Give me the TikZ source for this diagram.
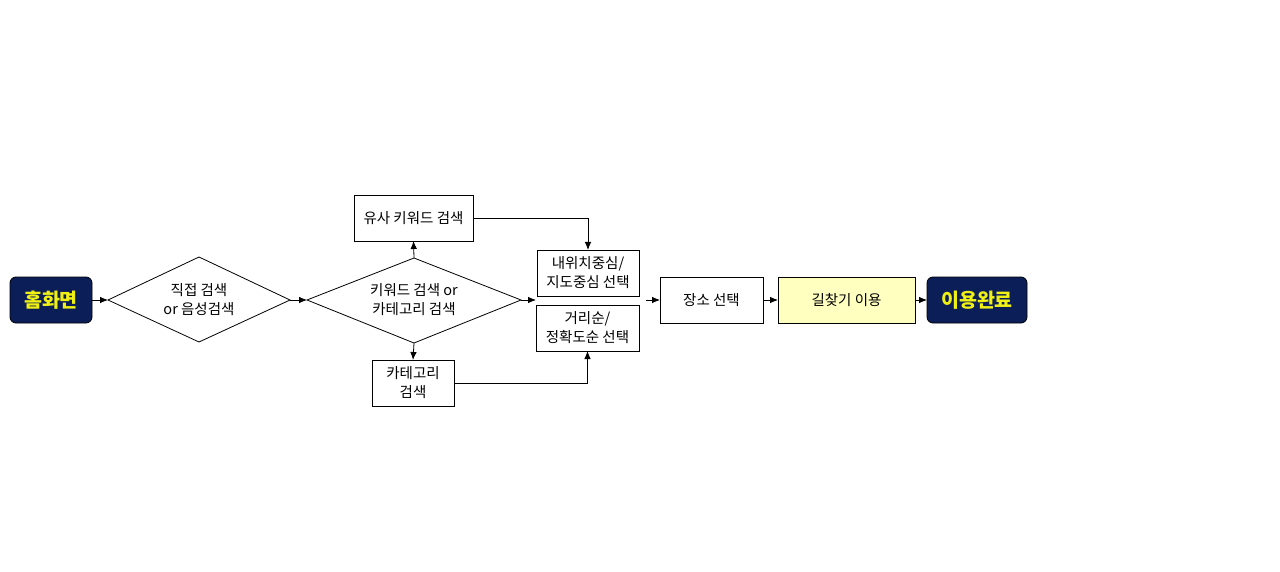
\documentclass[tikz,border=0pt]{standalone}
\usepackage{fontspec}
\setmainfont{Noto Sans CJK KR}
\usetikzlibrary{shapes.geometric,arrows.meta}
\definecolor{navy}{RGB}{12,30,88}
\definecolor{ltyellow}{RGB}{255,255,192}
\definecolor{txtyellow}{RGB}{240,240,20}
\begin{document}
\begin{tikzpicture}[x=1pt,y=-1pt,
  every node/.style={inner sep=0pt,outer sep=0pt,font=\fontsize{14.5}{19}\selectfont,align=center},
  boxn/.style={draw=black,line width=0.8pt,rectangle},
  term/.style={draw=black,line width=0.8pt,fill=navy,rounded corners=6pt,text=txtyellow,font=\fontsize{19.5}{22}\selectfont\bfseries},
  conn/.style={draw=black,line width=0.8pt,-{Latex[length=8pt,width=6.5pt]}}]
\useasboundingbox (0,0) rectangle (1280,572);
\node[term,minimum width=82pt,minimum height=46pt] (home) at (51,300) {홈화면};
\draw[line width=0.8pt] (108,300) -- (199,257) -- (290,300) -- (199,342) -- cycle;
\coordinate (d1w) at (108,300); \coordinate (d1e) at (290,300);
\node (d1) at (199,300) {직접 검색\\or 음성검색};
\draw[line width=0.8pt] (307,300) -- (414,258) -- (521,300) -- (414,343) -- cycle;
\coordinate (d2w) at (307,300); \coordinate (d2e) at (521,300);
\coordinate (d2n) at (414,258); \coordinate (d2s) at (414,343);
\node (d2) at (414,300) {키워드 검색 or\\카테고리 검색};
\node[boxn,minimum width=119pt,minimum height=46pt] (sim) at (413.5,218) {유사 키워드 검색};
\node[boxn,minimum width=82pt,minimum height=46pt] (cat) at (413,383) {카테고리\\검색};
\node[boxn,minimum width=102pt,minimum height=46pt] (loc) at (588,273) {내위치중심/\\지도중심 선택};
\node[boxn,minimum width=103pt,minimum height=46pt] (ord) at (587.5,328) {거리순/\\정확도순 선택};
\node[boxn,minimum width=103pt,minimum height=46pt] (place) at (711.5,300) {장소 선택};
\node[boxn,fill=ltyellow,minimum width=137pt,minimum height=46pt] (nav) at (846.5,300) {길찾기 이용};
\node[term,minimum width=100pt,minimum height=46pt] (done) at (977,300) {이용완료};
\coordinate (mid) at (536,300);
\coordinate (pstart) at (646,300);
\draw[conn] (home.east) -- (d1w);
\draw[conn] (d1e) -- (d2w);
\draw[conn] (d2n) -- (sim.south);
\draw[conn] (d2s) -- (cat.north);
\draw[conn] (d2e) -- (mid);
\draw[conn] (sim.east) -| (loc.north);
\draw[conn] (cat.east) -| (ord.south);
\draw[conn] (pstart) -- (place.west);
\draw[conn] (place.east) -- (nav.west);
\draw[conn] (nav.east) -- (done.west);
\end{tikzpicture}
\end{document}
